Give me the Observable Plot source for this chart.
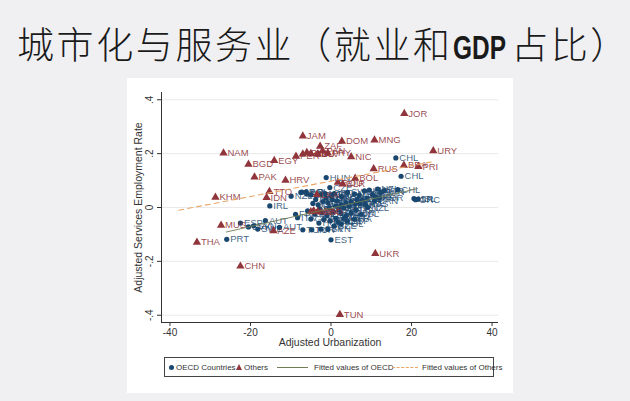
<!DOCTYPE html>
<html><head><meta charset="utf-8">
<script src="https://cdn.jsdelivr.net/npm/d3@7"></script>
<script src="https://cdn.jsdelivr.net/npm/@observablehq/plot@0.6"></script>
<style>
html,body{margin:0;padding:0;}
body{width:630px;height:401px;background:#f0f0f2;position:relative;overflow:hidden;font-family:"Liberation Sans",Arial,sans-serif;}
#title{position:absolute;left:17px;top:18px;font-family:"Noto Sans CJK SC",sans-serif;font-weight:300;font-size:37px;letter-spacing:2.6px;color:#1a1a1a;white-space:nowrap;line-height:50px;}
#title .lat{display:inline-block;font-family:"Liberation Sans","DejaVu Sans",sans-serif;font-weight:700;font-size:33px;letter-spacing:0px;transform:scaleX(0.74);transform-origin:left center;margin-right:-13px;}
#title .last{letter-spacing:0;}
#panel{position:absolute;left:127px;top:78px;width:386px;height:315px;background:#fff;}
#chart{position:absolute;left:0;top:0;}
#legend{position:absolute;left:37px;top:279px;width:330px;height:20px;box-sizing:border-box;border:1px solid #444;}
.li{position:absolute;top:5px;font-size:8px;line-height:10px;color:#333;white-space:nowrap;}
</style></head>
<body>
<div id="title">城市化与服务业（就业和<span class="lat">GDP</span>占比<span class="last">）</span></div>
<div id="panel"><div id="chart"></div><div id="legend"></div></div>
<script>
// ---- data ----
const oecdCode = ["CHL","CHL","CHL","HUN","IRL","NZL","NLD","POL","PRT","EST",
 "ESP","SVK","SVN","SWE","AUT","AUT","FRA","ITA","TUR","TUR","ISR","GRC","ISL",
 "NLD","POL","LUX","BEL","DNK","NOR","CZE","FIN","AUS","CAN","CHE","DEU","GBR","JPN","USA","SWE","NLD","DNK","NOR","AUS","NZL","CAN","ISR","BEL","USA","KOR","GBR","FIN","SWE","DEU","FRA","BEL","AUT","ITA","ESP","LUX","CHE","JPN","KOR","CZE","SVK","SVN","DNK","NOR","FRA","AUS","CAN","NZL","ISL","USA","GBR","DEU","FIN","SWE","POL","MEX","HUN","GRC","SVK","SVN","CZE","POL","ESP","ITA","JPN","KOR","AUT","BEL"];
const oecdX = [16.1,17.4,16.6,-1.2,-15.2,-9.9,-7.2,-6.2,-25.9,0.0,
 -22.5,-20.5,-19.2,-18.2,-16.3,-12.8,-8.8,-8.3,-7.0,-4.8,20.6,21.0,21.6,
 -7.5,-6.0,-5.0,-3.8,-2.5,-1.5,-0.3,0.8,-4.5,-3.2,-2.0,-0.8,0.3,1.5,2.6,4.1,5.8,7.0,8.3,9.5,11.6,12.4,13.2,10.3,11.0,12.0,9.0,7.8,6.5,5.0,3.7,2.5,1.2,-0.5,-2.8,-5.8,-4.0,-2.2,-1.0,0.5,2.0,3.2,4.5,6.0,7.2,8.5,10.8,9.1,7.5,6.2,5.0,3.8,2.5,1.2,-0.2,-1.8,-3.0,-5.0,-2.5,-0.8,0.8,2.5,4.0,5.8,3.2,1.8,-1.2,0.0];
const oecdY = [0.184,0.116,0.066,0.111,0.006,0.042,0.057,0.057,-0.118,-0.120,
 -0.058,-0.072,-0.068,-0.080,-0.049,-0.074,-0.025,-0.038,-0.083,-0.083,0.033,0.029,0.031,
 0.056,0.050,0.046,0.030,0.048,0.052,0.074,0.052,0.015,0.010,0.022,0.018,0.030,0.025,0.040,0.056,0.050,0.045,0.062,0.065,0.068,0.056,0.062,0.048,0.040,0.035,0.035,0.028,0.030,0.022,0.018,0.010,0.005,0.000,-0.005,-0.012,-0.025,-0.020,-0.030,-0.015,-0.008,-0.002,0.005,0.012,0.015,0.012,0.025,0.000,-0.025,-0.010,-0.020,-0.030,-0.022,-0.040,-0.050,-0.045,-0.058,-0.043,-0.080,-0.080,-0.068,-0.062,-0.050,-0.043,-0.040,-0.055,0.035,0.045];

const otherCode = ["JOR","JAM","DOM","MNG","NAM","URY","NIC","BGD","EGY","PER","COL","PHL","ECU","SLV","ZAF","PAN","PRY",
 "BRA","PRI","RUS","PAK","HRV","BOL","ROU","BLR","KHM","TTO","IDN","LKA","MAR","ARM","GEO","MUS","AZE","THA","CHN","UKR","TUN"];
const otherX = [18.2,-7.0,2.7,10.8,-26.7,25.4,5.0,-20.5,-14.1,-8.7,-7.0,-6.0,-5.0,-3.3,-2.7,-2.1,-0.8,
 18.1,21.7,10.6,-19.0,-11.3,6.0,1.7,2.9,-28.7,-15.3,-16.0,-3.5,-5.0,-4.3,-3.3,-27.3,-14.3,-33.3,-22.5,11.0,2.2];
const otherY = [0.349,0.265,0.246,0.250,0.202,0.210,0.188,0.160,0.174,0.190,0.198,0.204,0.200,0.198,0.227,0.210,0.202,
 0.157,0.152,0.144,0.113,0.101,0.108,0.093,0.087,0.038,0.059,0.037,0.048,-0.016,-0.012,-0.015,-0.066,-0.087,-0.129,-0.218,-0.171,-0.398];

const fitOecdX = [-26.0, 21.5];
const fitOecdY = [-0.091, 0.070];
const fitOthersX = [-37.8, 25.2];
const fitOthersY = [-0.010, 0.170];

const xTicks = [-40,-20,0,20,40];
const xTickLabels = ["-40","-20","0","20","40"];
const yTicks = [0.4,0.2,0,-0.2,-0.4];
const yTickLabels = [".4",".2","0","-.2","-.4"];
const xDomain = [-42.1, 41.6];
const yDomain = [-0.427, 0.427];
const xTitle = "Adjusted Urbanization";
const yTitle = "Adjusted Services Employment Rate";
const legendLabels = ["OECD Countries","Others","Fitted values of OECD","Fitted values of Others"];

// ---- build ----
const navy = "#1a476f", maroon = "#90353b", olive = "#6f7d55", orange = "#eaa566";
const oecd = oecdCode.map((c,i)=>({c, x:oecdX[i], y:oecdY[i]}));
const others = otherCode.map((c,i)=>({c, x:otherX[i], y:otherY[i]}));
const fitO = fitOecdX.map((x,i)=>({x, y:fitOecdY[i]}));
const fitT = fitOthersX.map((x,i)=>({x, y:fitOthersY[i]}));

const plot = Plot.plot({
  width: 386, height: 275,
  marginLeft: 34, marginRight: 15, marginTop: 14, marginBottom: 31,
  style: {background: "white", fontFamily: "'Liberation Sans', Arial, sans-serif", color: "#333"},
  x: {domain: xDomain},
  y: {domain: yDomain},
  marks: [
    Plot.gridY(yTicks, {stroke: "#e9e9e9", strokeOpacity: 1}),
    Plot.ruleX([xDomain[0]], {stroke: "#333", strokeWidth: 1}),
    Plot.ruleY([yDomain[0]], {stroke: "#333", strokeWidth: 1}),
    Plot.axisX(xTicks, {tickSize: 4, tickPadding: 2, fontSize: 10, label: null, stroke: "#333", fill: "#333",
      tickFormat: d => xTickLabels[xTicks.indexOf(d)]}),
    Plot.axisY(yTicks, {tickSize: 4, label: null, stroke: "#333", tickFormat: () => ""}),
    Plot.text(yTicks, {y: d => d, text: yTickLabels, frameAnchor: "left", dx: -12, rotate: -90, textAnchor: "middle", fontSize: 10, fill: "#333"}),
    Plot.text([xTitle], {frameAnchor: "bottom", dy: 23, fontSize: 10.5, fill: "#333"}),
    Plot.text([yTitle], {frameAnchor: "left", dx: -23, rotate: -90, textAnchor: "middle", fontSize: 10.5, fill: "#333"}),
    Plot.dot(oecd, {x: "x", y: "y", r: 2.6, fill: navy, symbol: "circle"}),
    Plot.text(oecd, {x: "x", y: "y", text: "c", dx: 3.5, textAnchor: "start", fontSize: 9.5, fill: navy, fillOpacity: 0.85}),
    Plot.dot(others, {x: "x", y: "y", r: 3.1, fill: maroon, symbol: "triangle"}),
    Plot.text(others, {x: "x", y: "y", text: "c", dx: 4, textAnchor: "start", fontSize: 9.5, fill: maroon, fillOpacity: 0.9}),
    Plot.line(fitO, {x: "x", y: "y", stroke: olive, strokeWidth: 0.9}),
    Plot.line(fitT, {x: "x", y: "y", stroke: orange, strokeWidth: 1.1, strokeDasharray: "5,4"})
  ]
});
document.getElementById("chart").appendChild(plot);

// legend (HTML)
const lg = document.getElementById("legend");
function add(html){ lg.insertAdjacentHTML("beforeend", html); }
add(`<div style="position:absolute;left:3.5px;top:7px;width:5px;height:5px;border-radius:50%;background:${navy}"></div>`);
add(`<div class="li" style="left:11px">${legendLabels[0]}</div>`);
add(`<div style="position:absolute;left:71px;top:6px;width:0;height:0;border-left:3.5px solid transparent;border-right:3.5px solid transparent;border-bottom:6px solid ${maroon}"></div>`);
add(`<div class="li" style="left:79px">${legendLabels[1]}</div>`);
add(`<div style="position:absolute;left:112px;top:9px;width:31px;border-top:1px solid ${olive}"></div>`);
add(`<div class="li" style="left:149px">${legendLabels[2]}</div>`);
add(`<div style="position:absolute;left:227px;top:9px;width:26px;border-top:1.2px dashed ${orange}"></div>`);
add(`<div class="li" style="left:257px">${legendLabels[3]}</div>`);
</script>
</body></html>
